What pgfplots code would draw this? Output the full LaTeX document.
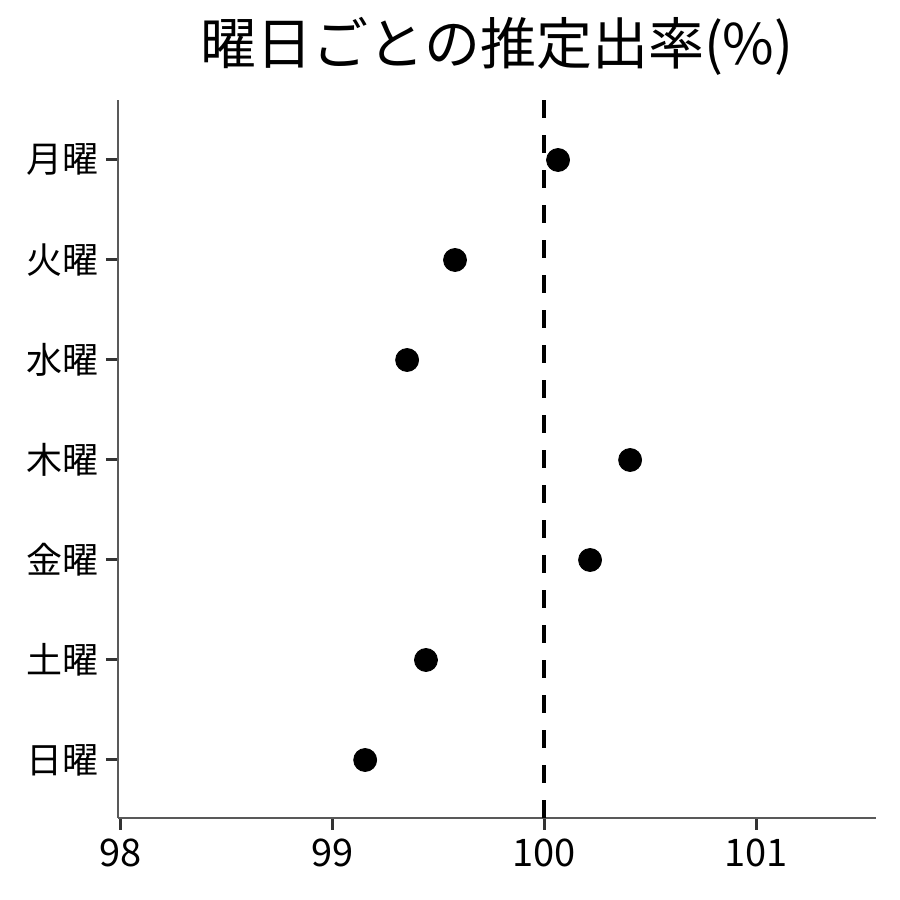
\documentclass[border=0pt]{standalone}
\usepackage{fontspec}
\setmainfont{Noto Sans CJK JP}
\usepackage{pgfplots}
\pgfplotsset{compat=1.18}

\begin{document}
\begin{tikzpicture}
\useasboundingbox (0,0) rectangle (450pt,450pt);
\node[font=\fontsize{28}{32}\selectfont] at (248.5pt,427pt) {曜日ごとの推定出率(\%)};
\begin{axis}[
  at={(59pt,41pt)}, anchor=south west,
  scale only axis, width=379pt, height=359pt,
  xmin=97.99, xmax=101.566,
  ymin=-0.58, ymax=6.6,
  axis lines*=left,
  axis line style={color=black!65, line width=0.6pt},
  xtick={98,99,100,101},
  ytick={0,1,2,3,4,5,6},
  yticklabels={日曜,土曜,金曜,木曜,水曜,火曜,月曜},
  tick align=outside,
  major tick length=6pt,
  tick style={color=black!80, line width=1.5pt},
  xticklabel style={font=\fontsize{19}{22}\selectfont, yshift=-1pt},
  yticklabel style={font=\fontsize{18}{21}\selectfont},
  /pgf/number format/assume math mode=true,
  clip=false,
]
\addplot[black, line width=1.8pt, dash pattern=on 9pt off 8.5pt] coordinates {(100,-0.58) (100,6.6)};
\addplot[only marks, mark=*, mark size=5.75pt, black] coordinates {
  (100.066,6)
  (99.58,5)
  (99.354,4)
  (100.406,3)
  (100.217,2)
  (99.443,1)
  (99.156,0)
};
\end{axis}
\end{tikzpicture}
\end{document}
